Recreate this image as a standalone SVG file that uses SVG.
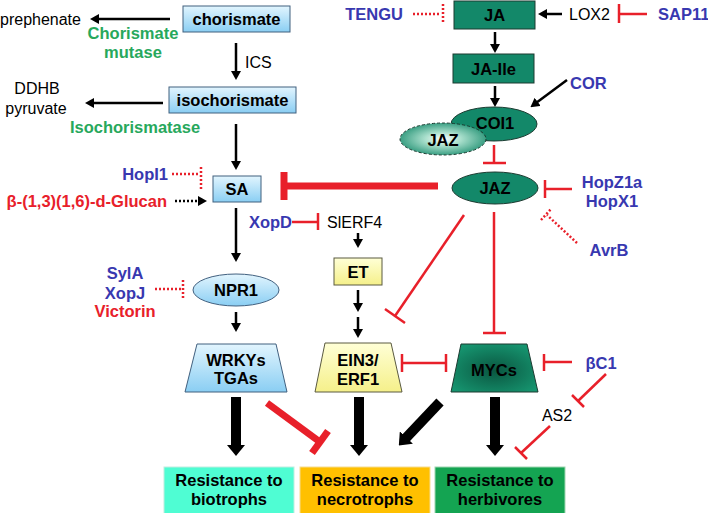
<svg xmlns="http://www.w3.org/2000/svg" width="708" height="513" viewBox="0 0 708 513">
<style>
text{font-family:"Liberation Sans",Arial,sans-serif;dominant-baseline:central}
.b{font-weight:bold;font-size:16.5px}
.r{font-size:16px}
.m{text-anchor:middle}
.e{text-anchor:end}
.blue{fill:#3838b0}
.red{fill:#e8202a}
.grn{fill:#27a85c}
.bn{fill:url(#gBlue);stroke:#41607f;stroke-width:1}
.yn{fill:url(#gYel);stroke:#5a5a40;stroke-width:1}
.gn{fill:#138869;stroke:#1d3b31;stroke-width:1}
.ta{stroke:#000;stroke-width:2.5;fill:none;marker-end:url(#ah)}
.tk{stroke:#000;stroke-width:10;fill:none;marker-end:url(#ahb)}
.inh{stroke:#e8202a;stroke-width:2.5;fill:none}
.inhk{stroke:#e8202a;stroke-width:7;fill:none}
.dot{stroke:#e8202a;stroke-width:2.5;stroke-dasharray:2 2;fill:none}
</style>
<defs>
<linearGradient id="gBlue" x1="0" y1="0" x2="0" y2="1"><stop offset="0" stop-color="#e2f5fe"/><stop offset="1" stop-color="#8acef3"/></linearGradient>
<linearGradient id="gYel" x1="0" y1="0" x2="0" y2="1"><stop offset="0" stop-color="#ffffd6"/><stop offset="1" stop-color="#f5f08a"/></linearGradient>
<radialGradient id="gJaz" cx="0.5" cy="0.5" r="0.6"><stop offset="0" stop-color="#ffffff"/><stop offset="0.35" stop-color="#a9dfcc"/><stop offset="1" stop-color="#138869"/></radialGradient>
<radialGradient id="gMyc" cx="0.5" cy="0.55" r="0.6"><stop offset="0" stop-color="#0a5640"/><stop offset="1" stop-color="#16946f"/></radialGradient>
<marker id="ah" markerUnits="userSpaceOnUse" markerWidth="9" markerHeight="10" viewBox="0 0 9 10" refX="2" refY="5" orient="auto"><path d="M0,0 L9,5 L0,10 z" fill="#000"/></marker>
<marker id="ahb" markerUnits="userSpaceOnUse" markerWidth="11" markerHeight="18" viewBox="0 0 11 18" refX="2" refY="9" orient="auto"><path d="M0,0 L11,9 L0,18 z" fill="#000"/></marker>
</defs>
<rect width="708" height="513" fill="#fff"/>

<g id="connectors">
<line class="ta" x1="170" y1="19" x2="97" y2="19"/>
<line class="ta" x1="236" y1="43" x2="236" y2="73"/>
<line class="ta" x1="163" y1="103" x2="92" y2="103"/>
<line class="ta" x1="236" y1="124" x2="236" y2="163"/>
<line x1="175" y1="201" x2="200" y2="201" stroke="#000" stroke-width="2.5" stroke-dasharray="2 2" marker-end="url(#ah)"/>
<line class="dot" x1="172" y1="174" x2="199" y2="174"/>
<line class="dot" x1="201" y1="167" x2="201" y2="189"/>
<line class="ta" x1="236" y1="208" x2="236" y2="255"/>
<line class="inh" x1="292" y1="222" x2="318" y2="222"/>
<line class="inh" x1="318" y1="213" x2="318" y2="230"/>
<line class="ta" x1="358" y1="233" x2="358" y2="241"/>
<line class="dot" x1="155" y1="289" x2="181" y2="289"/>
<line class="dot" x1="183" y1="280" x2="183" y2="300"/>
<line class="ta" x1="236" y1="312" x2="236" y2="325"/>
<line class="ta" x1="358" y1="290" x2="358" y2="305"/>
<line class="ta" x1="358" y1="317" x2="358" y2="331"/>
<line class="inhk" x1="438" y1="186" x2="284" y2="186"/>
<line class="inhk" x1="284" y1="172" x2="284" y2="200"/>
<line class="dot" x1="413" y1="14" x2="440" y2="14"/>
<line class="dot" x1="443" y1="4" x2="443" y2="24"/>
<line class="ta" x1="562" y1="14" x2="545" y2="14"/>
<line class="inh" x1="647" y1="14" x2="619" y2="14"/>
<line class="inh" x1="619" y1="4" x2="619" y2="23"/>
<line class="ta" x1="495" y1="32" x2="495" y2="46"/>
<line class="ta" x1="495" y1="86" x2="495" y2="100"/>
<line class="ta" x1="567" y1="80" x2="536" y2="103"/>
<line class="inh" x1="494" y1="145" x2="494" y2="163"/>
<line class="inh" x1="483" y1="163" x2="506" y2="163"/>
<line class="inh" x1="572" y1="189" x2="545" y2="189"/>
<line class="inh" x1="545" y1="180" x2="545" y2="198"/>
<line class="dot" x1="577" y1="243" x2="547" y2="215"/>
<line class="dot" x1="541" y1="220" x2="551" y2="209"/>
<line class="inh" x1="494" y1="212" x2="494" y2="333"/>
<line class="inh" x1="483" y1="333" x2="506" y2="333"/>
<line class="inh" x1="464" y1="215" x2="395" y2="316"/>
<line class="inh" x1="385" y1="309" x2="405" y2="323"/>
<line class="inh" x1="402" y1="363" x2="446" y2="363"/>
<line class="inh" x1="402" y1="354" x2="402" y2="372"/>
<line class="inh" x1="446" y1="354" x2="446" y2="372"/>
<line class="inh" x1="572" y1="362" x2="544" y2="362"/>
<line class="inh" x1="544" y1="354" x2="544" y2="371"/>
<line class="inh" x1="606" y1="374" x2="578" y2="401"/>
<line class="inh" x1="572" y1="395" x2="584" y2="407"/>
<line class="inh" x1="550" y1="426" x2="521" y2="453"/>
<line class="inh" x1="515" y1="447" x2="527" y2="459"/>
<line class="tk" x1="236" y1="397" x2="236" y2="447"/>
<line class="tk" x1="359" y1="397" x2="359" y2="447"/>
<line class="tk" x1="495" y1="397" x2="495" y2="447"/>
<line class="tk" x1="440" y1="402" x2="405" y2="439"/>
<line class="inhk" x1="267" y1="403" x2="320" y2="442"/>
<line class="inhk" x1="312" y1="453" x2="328" y2="431"/>
</g>

<g id="labels">
<text class="r" x="0" y="19">prephenate</text>
<text class="b m grn" x="133" y="33">Chorismate</text>
<text class="b m grn" x="133" y="52">mutase</text>
<text class="r" x="245" y="62">ICS</text>
<text class="r m" x="37" y="88">DDHB</text>
<text class="r m" x="36" y="108">pyruvate</text>
<text class="b m grn" x="135" y="127">Isochorismatase</text>
<text class="b e blue" x="168" y="174">HopI1</text>
<text class="b e red" x="167" y="201">β-(1,3)(1,6)-d-Glucan</text>
<text class="b e blue" x="292" y="222">XopD</text>
<text class="r" x="327" y="222">SlERF4</text>
<text class="b m blue" x="125" y="273">SylA</text>
<text class="b m blue" x="125" y="293">XopJ</text>
<text class="b m red" x="125" y="311">Victorin</text>
<text class="b m blue" x="374" y="14">TENGU</text>
<text class="r" x="569" y="14">LOX2</text>
<text class="b blue" x="658" y="14">SAP11</text>
<text class="b blue" x="570" y="83">COR</text>
<text class="b m blue" x="612" y="182">HopZ1a</text>
<text class="b m blue" x="612" y="201">HopX1</text>
<text class="b m blue" x="609" y="250">AvrB</text>
<text class="b m blue" x="601" y="363">βC1</text>
<text class="r m" x="557" y="415">AS2</text>
</g>

<g id="chorismate"><rect class="bn" x="183" y="6" width="107" height="26"/><text class="b m" x="236.5" y="19">chorismate</text></g>
<g id="isochorismate"><rect class="bn" x="169" y="87" width="127" height="26"/><text class="b m" x="232.5" y="100">isochorismate</text></g>
<g id="SA"><rect class="bn" x="213" y="176" width="48" height="26"/><text class="b m" x="237" y="189">SA</text></g>
<g id="NPR1"><ellipse class="bn" cx="236" cy="290" rx="43" ry="16"/><text class="b m" x="236" y="290">NPR1</text></g>
<g id="WRKYs"><path class="bn" d="M197,344 L276,344 L287,392 L185,392 z"/><text class="b m" x="236" y="360">WRKYs</text><text class="b m" x="236" y="378">TGAs</text></g>
<g id="ET"><rect class="yn" x="334" y="258" width="48" height="27"/><text class="b m" x="358" y="272">ET</text></g>
<g id="EIN3"><path class="yn" d="M325,343 L391,343 L402,392 L315,392 z"/><text class="b m" x="358" y="360">EIN3/</text><text class="b m" x="358" y="379">ERF1</text></g>
<g id="JA"><rect class="gn" x="454" y="1" width="81" height="28"/><text class="b m" x="494.5" y="15">JA</text></g>
<g id="JA-Ile"><rect class="gn" x="453" y="54" width="81" height="29"/><text class="b m" x="493.5" y="69">JA-Ile</text></g>
<g id="COI1"><ellipse class="gn" cx="494" cy="124" rx="43" ry="17"/><text class="b m" x="495" y="123">COI1</text></g>
<g id="JAZ-bound"><ellipse cx="443" cy="139" rx="43" ry="16" fill="url(#gJaz)" stroke="#1d3b31" stroke-width="1" stroke-dasharray="3 2"/><text class="b m" x="443" y="140">JAZ</text></g>
<g id="JAZ"><ellipse class="gn" cx="495" cy="188" rx="43" ry="16"/><text class="b m" x="495" y="188">JAZ</text></g>
<g id="MYCs"><path d="M461,344 L527,344 L538,392 L451,392 z" fill="url(#gMyc)" stroke="#1d3b31" stroke-width="1"/><text class="b m" x="494" y="370">MYCs</text></g>

<g id="res-biotrophs"><rect x="164" y="467" width="130" height="47" fill="#4ffdd3" stroke="#bfeee0" stroke-width="1"/><text class="b m" x="229" y="480">Resistance to</text><text class="b m" x="229" y="499">biotrophs</text></g>
<g id="res-necrotrophs"><rect x="300" y="467" width="130" height="47" fill="#ffc000" stroke="#f5dc90" stroke-width="1"/><text class="b m" x="365" y="480">Resistance to</text><text class="b m" x="365" y="499">necrotrophs</text></g>
<g id="res-herbivores"><rect x="435" y="467" width="130" height="47" fill="#14a452" stroke="#9ed6b0" stroke-width="1"/><text class="b m" x="500" y="480">Resistance to</text><text class="b m" x="500" y="499">herbivores</text></g>
</svg>
